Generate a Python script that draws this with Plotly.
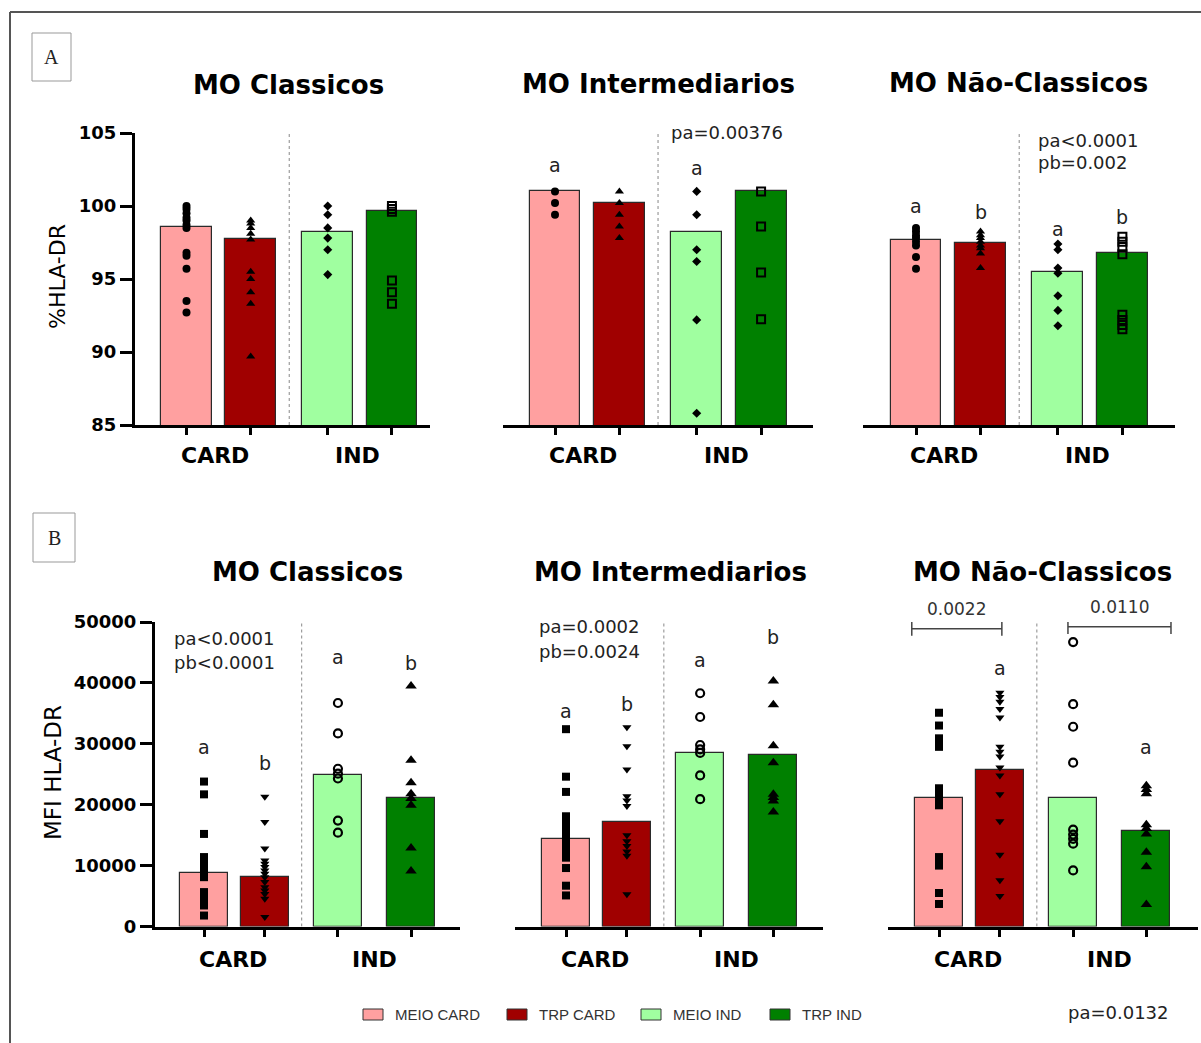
import plotly.graph_objects as go

W, H = 1201, 1043

# ---------------- data ----------------
groups = ["MEIO CARD", "TRP CARD", "MEIO IND", "TRP IND"]
x_groups = ["CARD", "IND"]
panel_titles = ["MO Classicos", "MO Intermediarios", "MO Não-Classicos"]
y_titles = ["%HLA-DR", "MFI HLA-DR"]

a_ticks = [85, 90, 95, 100, 105]
b_ticks = [0, 10000, 20000, 30000, 40000, 50000]

# Panel A (%HLA-DR)
a_bar_classicos = [98.55, 97.75, 98.2, 99.65]
a_pts_classicos = [
    [100.0, 99.8, 99.5, 99.2, 99.0, 98.7, 98.5, 96.8, 96.6, 95.7, 93.5, 92.7],
    [99.0, 98.8, 98.5, 98.1, 97.7, 95.5, 95.0, 94.1, 93.3, 89.7],
    [100.0, 99.4, 98.5, 97.8, 97.0, 95.3],
    [100.0, 99.8, 99.6, 94.9, 94.1, 93.3],
]
a_bar_intermed = [101.0, 100.2, 98.25, 101.0]
a_pts_intermed = [
    [101.0, 100.2, 99.4],
    [101.0, 100.2, 99.4, 98.6, 97.8],
    [101.0, 99.4, 97.0, 96.2, 92.2, 85.8],
    [101.0, 98.6, 95.45, 92.25],
]
a_bar_naoclass = [97.7, 97.5, 95.45, 96.75]
a_pts_naoclass = [
    [98.5, 98.25, 98.0, 97.8, 97.55, 97.3, 96.5, 95.7],
    [98.25, 98.0, 97.8, 97.55, 97.3, 97.1, 96.75, 95.75],
    [97.4, 97.0, 95.75, 95.4, 93.85, 92.85, 91.8],
    [97.9, 97.55, 97.2, 96.7, 92.55, 92.2, 91.85, 91.55],
]

# Panel B (MFI HLA-DR)
b_bar_classicos = [8850, 8200, 24850, 21050]
b_pts_classicos = [
    [23800, 21700, 15200, 11400, 10900, 10300, 9750, 9200, 8650, 8100, 5650, 5100, 4550, 4000, 3450, 1800],
    [21300, 17150, 12800, 10850, 10300, 9750, 9200, 8650, 8100, 7300, 6450, 5900, 5350, 4550, 1550],
    [36700, 31700, 25900, 25100, 24300, 17400, 15400],
    [39500, 27300, 23600, 21800, 21000, 19900, 12900, 9100],
]
b_bar_intermed = [14450, 17200, 28550, 28200]
b_pts_intermed = [
    [32400, 24600, 22100, 18100, 17300, 16500, 15600, 15100, 14600, 14000, 13500, 12900, 12400, 11800, 11300, 9600, 6700, 5100],
    [32700, 29600, 25800, 21400, 20700, 19800, 15000, 14000, 13200, 12300, 11600, 5300],
    [38300, 34400, 29800, 29100, 28500, 24800, 20900],
    [40300, 36400, 29700, 26900, 21700, 21200, 20600, 18800],
]
b_bar_naoclass = [21150, 25750, 21150, 15700]
b_pts_naoclass = [
    [35100, 33000, 30900, 30200, 29500, 22700, 22100, 21600, 21000, 20500, 19900, 11400, 10600, 10000, 5500, 3700],
    [38400, 37700, 36900, 35700, 34300, 29500, 28700, 27900, 26100, 24800, 21700, 17300, 11800, 7600, 5000],
    [46700, 36500, 32800, 26900, 15900, 15100, 14400, 13600, 9200],
    [23100, 22500, 21800, 16700, 16100, 15200, 12200, 9800, 3600],
]

# significance letters (text, x slot, y value)
a_notes = [
    [],
    [("a", 0, 102.8), ("a", 2, 102.6)],
    [("a", 0, 100.0), ("b", 1, 99.6), ("a", 2, 98.45), ("b", 3, 99.25)],
]
b_notes = [
    [("a", 0, 29500), ("b", 1, 26900), ("a", 2, 44300), ("b", 3, 43300)],
    [("a", 0, 35400), ("b", 1, 36600), ("a", 2, 43800), ("b", 3, 47600)],
    [("a", 1, 42500), ("a", 3, 29500)],
]
# p-value texts (text, x in slot units, y value)
a_pvals = [
    [],
    [("pa=0.00376", 1.77, 105.05)],
    [("pa<0.0001", 1.86, 104.5), ("pb=0.002", 1.86, 102.95)],
]
b_pvals = [
    [("pa<0.0001", -0.49, 47300), ("pb<0.0001", -0.49, 43300)],
    [("pa=0.0002", -0.45, 49300), ("pb=0.0024", -0.45, 45100)],
    [],
]
b3_brackets = [("0.0022", -0.42, 0.97, 48900), ("0.0110", 1.99, 3.58, 49200)]
footer_p = "pa=0.0132"

# ---------------- style ----------------
colors = ["#FFA0A0", "#A00000", "#A0FFA0", "#008000"]
FONT = "DejaVu Sans"
a_symbols = [("circle", 8, 0), ("triangle-up", 8, 0), ("diamond", 7, 0), ("square-open", 8, 2)]
b_symbols = [("square", 8, 0), ("triangle-down", 8, 0), ("circle-open", 8, 2.2), ("triangle-up", 10, 0)]

a_slots = [0, 1, 2.2, 3.2]
b_slots = [0, 0.94, 2.07, 3.2]

# vertical pixel geometry of the two rows: (value range, px of bottom, px of top)
A_ROW = dict(rng=[85, 105], bottom=425, top=133)
B_ROW = dict(rng=[0, 50000], bottom=926.5, top=622)


def px_x(x):
    return x / W


def px_y(y):
    return 1 - y / H


def val_to_paper(row, v):
    r0, r1 = row["rng"]
    px = row["bottom"] - (v - r0) / (r1 - r0) * (row["bottom"] - row["top"])
    return px_y(px)


# panel geometry: (axis-left px, axis-right px, slot0 px, unit px)
panels = [
    dict(row="A", col=0, g=(135, 430, 186.5, 64.2), bars=a_bar_classicos, pts=a_pts_classicos),
    dict(row="A", col=1, g=(503, 813, 555, 64.4), bars=a_bar_intermed, pts=a_pts_intermed),
    dict(row="A", col=2, g=(863, 1175, 916, 64.5), bars=a_bar_naoclass, pts=a_pts_naoclass),
    dict(row="B", col=0, g=(155, 460, 204, 64.7), bars=b_bar_classicos, pts=b_pts_classicos),
    dict(row="B", col=1, g=(515, 823, 566, 64.8), bars=b_bar_intermed, pts=b_pts_intermed),
    dict(row="B", col=2, g=(888, 1198, 939, 64.8), bars=b_bar_naoclass, pts=b_pts_naoclass),
]

title_centers = {("A", 0): (288, 85), ("A", 1): (658, 84), ("A", 2): (1018, 83),
                 ("B", 0): (307, 572), ("B", 1): (670, 572), ("B", 2): (1042, 572)}

fig = go.Figure()
shapes = []
annotations = []
layout_axes = {}

for i, p in enumerate(panels):
    xa = "x" if i == 0 else f"x{i + 1}"
    ya = "y" if i == 0 else f"y{i + 1}"
    xkey = "xaxis" if i == 0 else f"xaxis{i + 1}"
    ykey = "yaxis" if i == 0 else f"yaxis{i + 1}"
    L, R, c0, u = p["g"]
    isA = p["row"] == "A"
    row = A_ROW if isA else B_ROW
    slots = a_slots if isA else b_slots
    bw = 0.79 if isA else 0.74
    syms = a_symbols if isA else b_symbols
    ydom = [px_y(row["bottom"]), px_y(row["top"])]
    yrng = row["rng"]
    yt = a_ticks if isA else b_ticks
    sep = 1.6 if isA else 1.51
    xrng = [(L - c0) / u, (R - c0) / u]

    fig.add_trace(go.Bar(
        x=slots, y=p["bars"], width=bw, xaxis=xa, yaxis=ya,
        marker=dict(color=colors, line=dict(color="#2a2a2a", width=1.2)),
        name=panel_titles[p["col"]], showlegend=False,
    ))
    for g in range(4):
        sym, sz, lw = syms[g]
        vals = p["pts"][g]
        fig.add_trace(go.Scatter(
            x=[slots[g]] * len(vals), y=vals, mode="markers", xaxis=xa, yaxis=ya,
            marker=dict(symbol=sym, size=sz, color="black",
                        line=dict(color="black", width=lw)),
            cliponaxis=False, showlegend=False, name=groups[g],
        ))

    layout_axes[xkey] = dict(
        domain=[px_x(L), px_x(R)], range=xrng, anchor=ya, automargin=False,
        tickvals=slots, ticks="outside", ticklen=7, tickwidth=3, tickcolor="black",
        showticklabels=False, showline=True, linewidth=3, linecolor="black",
        showgrid=False, zeroline=False, fixedrange=True,
    )
    if p["col"] == 0:
        layout_axes[ykey] = dict(
            domain=ydom, range=yrng, anchor=xa, automargin=False,
            tickvals=yt, ticktext=[str(t) for t in yt],
            ticks="outside", ticklen=12, tickwidth=3, tickcolor="black",
            tickfont=dict(family=FONT, size=18, color="black", weight="bold"),
            showline=True, linewidth=3, linecolor="black",
            showgrid=False, zeroline=False, fixedrange=True,
        )
    else:
        layout_axes[ykey] = dict(
            domain=ydom, range=yrng, anchor=xa, visible=False, automargin=False,
            showgrid=False, zeroline=False, fixedrange=True,
        )

    # dotted separator
    shapes.append(dict(type="line", xref=xa, yref=ya, x0=sep, x1=sep, y0=yrng[0], y1=yrng[1],
                       line=dict(color="#888888", width=1, dash="dot")))

    # group labels
    for gx, lbl in zip([0.44, 2.66] if isA else [0.45, 2.63], x_groups):
        annotations.append(dict(
            xref=xa, yref="paper", x=gx, y=px_y(row["bottom"] + (31 if isA else 33)),
            text=lbl, showarrow=False, xanchor="center", yanchor="middle",
            font=dict(family=FONT, size=22, color="black", weight="bold")))

    # titles
    tx, ty = title_centers[(p["row"], p["col"])]
    annotations.append(dict(
        xref="paper", yref="paper", x=px_x(tx), y=px_y(ty), text=panel_titles[p["col"]],
        showarrow=False, xanchor="center", yanchor="middle",
        font=dict(family=FONT, size=26, color="black", weight="bold")))

    notes = (a_notes if isA else b_notes)[p["col"]]
    for txt, slot, yv in notes:
        annotations.append(dict(
            xref=xa, yref="paper", x=slots[slot], y=val_to_paper(row, yv), text=txt,
            showarrow=False, xanchor="center", yanchor="middle",
            font=dict(family=FONT, size=19, color="#222")))
    pvals = (a_pvals if isA else b_pvals)[p["col"]]
    for txt, xv, yv in pvals:
        annotations.append(dict(
            xref=xa, yref="paper", x=xv, y=val_to_paper(row, yv), text=txt, showarrow=False,
            xanchor="left", yanchor="middle", font=dict(family=FONT, size=18, color="#222")))

    if p["row"] == "B" and p["col"] == 2:
        for txt, xl, xr, yv in b3_brackets:
            shapes.append(dict(type="line", xref=xa, yref=ya, x0=xl, x1=xr, y0=yv, y1=yv,
                               line=dict(color="#444", width=1.5)))
            for xe in (xl, xr):
                shapes.append(dict(type="line", xref=xa, yref=ya, x0=xe, x1=xe,
                                   y0=yv - 1150, y1=yv + 1150, line=dict(color="#444", width=1.5)))
            annotations.append(dict(
                xref=xa, yref="paper", x=(xl + xr) / 2, y=val_to_paper(row, yv + 3300), text=txt,
                showarrow=False, xanchor="center", yanchor="middle",
                font=dict(family=FONT, size=17, color="#333")))

# y-axis titles
annotations.append(dict(xref="paper", yref="paper", x=px_x(57), y=px_y(277), text=y_titles[0],
                        textangle=-90, showarrow=False, xanchor="center", yanchor="middle",
                        font=dict(family=FONT, size=22, color="black")))
annotations.append(dict(xref="paper", yref="paper", x=px_x(53), y=px_y(773), text=y_titles[1],
                        textangle=-90, showarrow=False, xanchor="center", yanchor="middle",
                        font=dict(family=FONT, size=23, color="black")))

# panel letter boxes
for lbl, (x0, y0, x1, y1) in [("A", (32, 33, 71, 81)), ("B", (33, 513, 75, 562))]:
    shapes.append(dict(type="rect", xref="paper", yref="paper",
                       x0=px_x(x0), x1=px_x(x1), y0=px_y(y1), y1=px_y(y0),
                       line=dict(color="#999999", width=1)))
    annotations.append(dict(xref="paper", yref="paper", x=px_x((x0 + x1) / 2), y=px_y((y0 + y1) / 2),
                            text=lbl, showarrow=False, xanchor="center", yanchor="middle",
                            font=dict(family="Liberation Serif", size=20, color="#222")))

# outer frame (top and left edges)
shapes.append(dict(type="line", xref="paper", yref="paper", x0=px_x(10), x1=1, y0=px_y(12), y1=px_y(12),
                   line=dict(color="#555555", width=2)))
shapes.append(dict(type="line", xref="paper", yref="paper", x0=px_x(10), x1=px_x(10), y0=px_y(12), y1=0,
                   line=dict(color="#555555", width=2)))

# custom legend
legend_x = [363, 507, 641, 770]
for g in range(4):
    sx = legend_x[g]
    shapes.append(dict(type="rect", xref="paper", yref="paper",
                       x0=px_x(sx), x1=px_x(sx + 20), y0=px_y(1020), y1=px_y(1009),
                       fillcolor=colors[g], line=dict(color="#333333", width=1)))
    annotations.append(dict(xref="paper", yref="paper", x=px_x(sx + 30), y=px_y(1014.5),
                            text=groups[g], showarrow=False, xanchor="left", yanchor="middle",
                            font=dict(family="Liberation Sans", size=15, color="#333")))

annotations.append(dict(xref="paper", yref="paper", x=px_x(1066), y=px_y(1012), text=footer_p,
                        showarrow=False, xanchor="left", yanchor="middle",
                        font=dict(family=FONT, size=18, color="#222")))

fig.update_layout(
    width=W, height=H, margin=dict(l=0, r=0, t=0, b=0, autoexpand=False),
    paper_bgcolor="white", plot_bgcolor="rgba(0,0,0,0)",
    showlegend=False, bargap=0, shapes=shapes, annotations=annotations,
    **layout_axes,
)

fig.write_html("out.html")
